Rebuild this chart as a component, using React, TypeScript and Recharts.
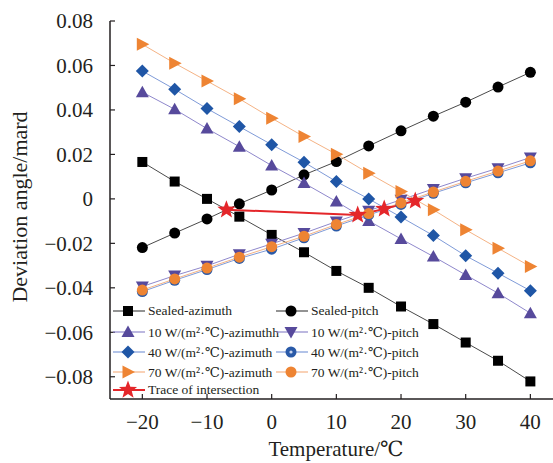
import { LineChart, Line, XAxis, YAxis, Label } from 'recharts';

const temps = [-20, -15, -10, -5, 0, 5, 10, 15, 20, 25, 30, 35, 40];
const sealedAzimuth = [0.0166, 0.0078, 0, -0.008, -0.0162, -0.024, -0.0324, -0.04, -0.0484, -0.0563, -0.0646, -0.0728, -0.0821];
const sealedPitch = [-0.0219, -0.0154, -0.009, -0.0022, 0.004, 0.0108, 0.0168, 0.0238, 0.0306, 0.0372, 0.0435, 0.0503, 0.0569];
const w10Azimuth = [0.048, 0.0403, 0.0316, 0.0235, 0.015, 0.0071, -0.0012, -0.0099, -0.018, -0.0259, -0.0342, -0.0424, -0.0514];
const w10Pitch = [-0.0394, -0.0345, -0.0301, -0.0249, -0.0202, -0.0154, -0.0102, -0.0053, -0.0004, 0.0045, 0.0093, 0.0138, 0.0186];
const w40Azimuth = [0.0575, 0.0493, 0.0406, 0.0325, 0.0244, 0.0165, 0.0078, 0, -0.0082, -0.0165, -0.0256, -0.0334, -0.0413];
const w40Pitch = [-0.0417, -0.0366, -0.0318, -0.0268, -0.0226, -0.0175, -0.0122, -0.0072, -0.0025, 0.0025, 0.0072, 0.0117, 0.0162];
const w70Azimuth = [0.0695, 0.061, 0.053, 0.045, 0.0363, 0.028, 0.0201, 0.0115, 0.0033, -0.0049, -0.0139, -0.0222, -0.0304];
const w70Pitch = [-0.041, -0.036, -0.0311, -0.0262, -0.0215, -0.0168, -0.0115, -0.0066, -0.0018, 0.0031, 0.0079, 0.0125, 0.0171];
const traceTemps = [-7, 13.3, 17.4, 22.2];
const traceValues = [-0.0049, -0.0072, -0.0045, -0.0009];

const xTicks = [-20, -10, 0, 10, 20, 30, 40];
const yTicks = [-0.08, -0.06, -0.04, -0.02, 0, 0.02, 0.04, 0.06, 0.08];

const FONT = 'Liberation Serif, DejaVu Serif, Times, serif';

type Shape = 'square' | 'circle' | 'up' | 'down' | 'diamond' | 'ring' | 'right' | 'star';

const toPoints = (xs: number[], ys: number[]) => xs.map((x, i) => ({ x, y: ys[i] }));

function starPath(cx: number, cy: number, ro: number, ri: number) {
    const pts: string[] = [];
    for (let i = 0; i < 10; i++) {
        const r = i % 2 === 0 ? ro : ri;
        const a = -Math.PI / 2 + (i * Math.PI) / 5;
        pts.push(`${cx + r * Math.cos(a)},${cy + r * Math.sin(a)}`);
    }
    return pts.join(' ');
}

function Marker({ shape, cx, cy, color }: { shape: Shape; cx: number; cy: number; color: string }) {
    switch (shape) {
        case 'square':
            return <rect x={cx - 5} y={cy - 5} width={10} height={10} fill={color} />;
        case 'circle':
            return <circle cx={cx} cy={cy} r={5.5} fill={color} />;
        case 'up':
            return <polygon points={`${cx},${cy - 6.5} ${cx + 6.5},${cy + 5} ${cx - 6.5},${cy + 5}`} fill={color} />;
        case 'down':
            return <polygon points={`${cx},${cy + 6.5} ${cx + 6.5},${cy - 5} ${cx - 6.5},${cy - 5}`} fill={color} />;
        case 'diamond':
            return <polygon points={`${cx},${cy - 6.5} ${cx + 6.5},${cy} ${cx},${cy + 6.5} ${cx - 6.5},${cy}`} fill={color} />;
        case 'ring':
            return (
                <g>
                    <circle cx={cx} cy={cy} r={5.5} fill={color} />
                    <circle cx={cx} cy={cy} r={1.6} fill="#c9d5ef" />
                </g>
            );
        case 'right':
            return <polygon points={`${cx + 7},${cy} ${cx - 5.5},${cy - 6.5} ${cx - 5.5},${cy + 6.5}`} fill={color} />;
        case 'star':
            return <polygon points={starPath(cx, cy, 9.5, 4)} fill={color} />;
        default:
            return null;
    }
}

interface SeriesDef {
    name: string;
    xs: number[];
    ys: number[];
    shape: Shape;
    marker: string;
    line: string;
    width: number;
}

const series: SeriesDef[] = [
    { name: 'Sealed-azimuth', xs: temps, ys: sealedAzimuth, shape: 'square', marker: '#000000', line: '#4a4a4a', width: 1 },
    { name: 'Sealed-pitch', xs: temps, ys: sealedPitch, shape: 'circle', marker: '#000000', line: '#4a4a4a', width: 1 },
    { name: '10 W/(m²·℃)-azimuthh', xs: temps, ys: w10Azimuth, shape: 'up', marker: '#574a9c', line: '#8f88cc', width: 1 },
    { name: '10 W/(m²·℃)-pitch', xs: temps, ys: w10Pitch, shape: 'down', marker: '#574a9c', line: '#8f88cc', width: 1 },
    { name: '40 W/(m²·℃)-azimuth', xs: temps, ys: w40Azimuth, shape: 'diamond', marker: '#1f56a6', line: '#7f9bd8', width: 1 },
    { name: '40 W/(m²·℃)-pitch', xs: temps, ys: w40Pitch, shape: 'ring', marker: '#2a5aa8', line: '#7f9bd8', width: 1 },
    { name: '70 W/(m²·℃)-azimuth', xs: temps, ys: w70Azimuth, shape: 'right', marker: '#ee8433', line: '#f5b385', width: 1 },
    { name: '70 W/(m²·℃)-pitch', xs: temps, ys: w70Pitch, shape: 'circle', marker: '#ee8433', line: '#f5b385', width: 1 },
    { name: 'Trace of intersection', xs: traceTemps, ys: traceValues, shape: 'star', marker: '#e4262a', line: '#e4262a', width: 2 },
];

// legend placement: [line start x, row center y]
const legendSlots: [number, number][] = [
    [113, 311], [276, 311],
    [113, 332], [276, 332],
    [113, 352], [276, 352],
    [113, 372], [276, 372],
    [113, 390],
];

const fmtX = (v: number) => `${v}`.replace('-', '−');
const fmtY = (v: number) => (Math.abs(v) < 1e-9 ? '0' : v.toFixed(2).replace('-', '−'));

export default function App() {
    const tickStyle = { fontSize: 21, fill: '#231f20', fontFamily: FONT };
    return (
        <div style={{ position: 'absolute', left: 0, top: 0, width: 553, height: 463, background: '#fff', fontFamily: FONT }}>
            <LineChart width={553} height={463} margin={{ top: 21, right: 0, left: 0, bottom: 0 }} style={{ fontFamily: FONT }}>
                <XAxis
                    dataKey="x"
                    type="number"
                    domain={[-25, 43.5]}
                    ticks={xTicks}
                    allowDataOverflow
                    height={64}
                    tickSize={-5}
                    tickMargin={20}
                    tickFormatter={fmtX}
                    tick={tickStyle}
                    axisLine={{ stroke: '#231f20', strokeWidth: 1.5 }}
                    tickLine={{ stroke: '#231f20', strokeWidth: 1.2 }}
                >
                    <Label
                        content={() => (
                            <text x={336} y={456} textAnchor="middle" fontFamily={FONT} fontSize={21} fill="#231f20">
                                Temperature/℃
                            </text>
                        )}
                    />
                </XAxis>
                <YAxis
                    dataKey="y"
                    type="number"
                    domain={[-0.09, 0.08]}
                    ticks={yTicks}
                    allowDataOverflow
                    width={110}
                    tickSize={-5}
                    tickMargin={22}
                    tickFormatter={fmtY}
                    tick={tickStyle}
                    axisLine={{ stroke: '#231f20', strokeWidth: 1.5 }}
                    tickLine={{ stroke: '#231f20', strokeWidth: 1.2 }}
                >
                    <Label
                        content={() => (
                            <text
                                x={27}
                                y={207}
                                transform="rotate(-90, 27, 207)"
                                textAnchor="middle"
                                fontFamily={FONT}
                                fontSize={22}
                                fill="#231f20"
                            >
                                Deviation angle/mard
                            </text>
                        )}
                    />
                </YAxis>
                {series.map((s) => (
                    <Line
                        key={s.name}
                        data={toPoints(s.xs, s.ys)}
                        dataKey="y"
                        name={s.name}
                        type="linear"
                        stroke={s.line}
                        strokeWidth={s.width}
                        isAnimationActive={false}
                        dot={(p: any) => (
                            <Marker key={`${s.name}-${p.index}`} shape={s.shape} cx={p.cx} cy={p.cy} color={s.marker} />
                        )}
                        activeDot={false}
                    />
                ))}
            </LineChart>
            {series.map((s, i) => {
                const [lx, ly] = legendSlots[i];
                return (
                    <div key={s.name} style={{ position: 'absolute', left: lx, top: ly - 10, height: 20, display: 'flex', alignItems: 'center' }}>
                        <svg width={32} height={20} style={{ display: 'block' }}>
                            <line x1={0} y1={10} x2={32} y2={10} stroke={s.line} strokeWidth={s.width === 2 ? 2 : 1.2} />
                            <Marker shape={s.shape} cx={15} cy={10} color={s.marker} />
                        </svg>
                        <span style={{ marginLeft: 3, fontFamily: FONT, fontSize: 13.5, color: '#231f20', whiteSpace: 'nowrap' }}>
                            {s.name}
                        </span>
                    </div>
                );
            })}
        </div>
    );
}
